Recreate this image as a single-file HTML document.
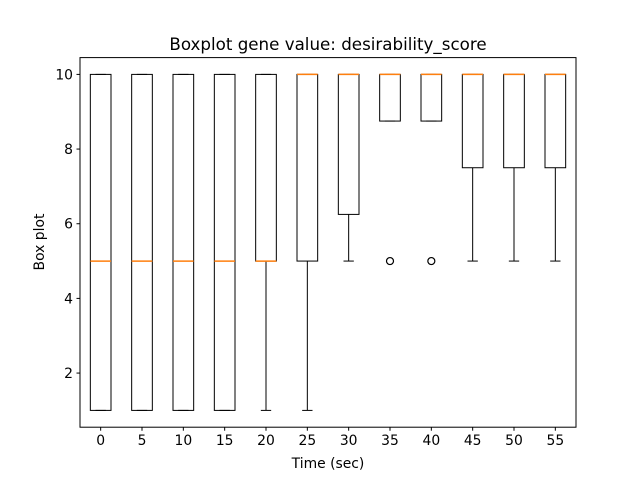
<!DOCTYPE html>
<html><head><meta charset="utf-8"><style>
html,body{margin:0;padding:0;background:#fff;}
svg text{font-family:"DejaVu Sans","Liberation Sans",sans-serif;fill:#000;}
</style></head><body>
<svg id="chart" width="640" height="480" xmlns="http://www.w3.org/2000/svg">
<rect width="640" height="480" fill="#fff"/>
<text x="328" y="50" font-size="16.7" text-anchor="middle">Boxplot gene value: desirability_score</text>
<text x="328" y="468" font-size="13.9" text-anchor="middle">Time (sec)</text>
<text x="44" y="242" font-size="13.9" text-anchor="middle" transform="rotate(-90 44 242)">Box plot</text>
<g id="marks"></g>
<rect x="80" y="57.6" width="496" height="369.6" fill="none" stroke="#000" stroke-width="1"/>
</svg>
<script>
const categories = ["0","5","10","15","20","25","30","35","40","45","50","55"];
const whiskerLow = [1,1,1,1,1,1,5,8.75,8.75,5,5,5];
const q1Values = [1,1,1,1,5,5,6.25,8.75,8.75,7.5,7.5,7.5];
const medians = [5,5,5,5,5,10,10,10,10,10,10,10];
const q3Values = [10,10,10,10,10,10,10,10,10,10,10,10];
const whiskerHigh = [10,10,10,10,10,10,10,10,10,10,10,10];
const fliers = [[],[],[],[],[],[],[],[5],[5],[],[],[]];
const yTicks = [2,4,6,8,10];

const L=80,R=576,T=57.6,B=427.2, ymin=0.55, ymax=10.45;
const xs = i => L + (i+0.5)/categories.length*(R-L);
const ys = v => B - (v-ymin)/(ymax-ymin)*(B-T);
const NS="http://www.w3.org/2000/svg";
const g=document.getElementById('marks');
function mk(tag,attrs){const e=document.createElementNS(NS,tag);for(const k in attrs)e.setAttribute(k,attrs[k]);g.appendChild(e);return e;}
const unit=(R-L)/categories.length;
yTicks.forEach(v=>{
  const t=mk('line',{x1:L-3.5,x2:L,y1:ys(v),y2:ys(v),stroke:'#000'});
  
  
  const lb=mk('text',{x:L-7,y:ys(v)+5,'font-size':13.9,'text-anchor':'end'});
  lb.textContent=v;
  
  
});
categories.forEach((c,i)=>{
  const x=xs(i), hw=unit*0.25, cw=unit*0.125;
  const t=mk('line',{x1:x,x2:x,y1:B,y2:B+3.5,stroke:'#000'});
  
  
  const lb=mk('text',{x:x,y:B+18,'font-size':13.9,'text-anchor':'middle'});
  lb.textContent=c;
  
  
  const w1=mk('line',{x1:x,x2:x,y1:ys(whiskerLow[i]),y2:ys(q1Values[i]),stroke:'#000'});
  
  
  const w2=mk('line',{x1:x,x2:x,y1:ys(q3Values[i]),y2:ys(whiskerHigh[i]),stroke:'#000'});
  
  
  const c1=mk('line',{x1:x-cw,x2:x+cw,y1:ys(whiskerLow[i]),y2:ys(whiskerLow[i]),stroke:'#000'});
  
  
  const c2=mk('line',{x1:x-cw,x2:x+cw,y1:ys(whiskerHigh[i]),y2:ys(whiskerHigh[i]),stroke:'#000'});
  
  
  const b=mk('rect',{x:x-hw,y:ys(q3Values[i]),width:2*hw,height:ys(q1Values[i])-ys(q3Values[i]),fill:'none',stroke:'#000'});
  
  
  const m=mk('line',{x1:x-hw,x2:x+hw,y1:ys(medians[i]),y2:ys(medians[i]),stroke:'#ff7f0e','stroke-width':1.5});
  
  
  fliers[i].forEach(f=>{
    const p=mk('circle',{cx:x,cy:ys(f),r:3.5,fill:'none',stroke:'#000','stroke-width':1.2});
    
    
  });
});
</script>
</body></html>
